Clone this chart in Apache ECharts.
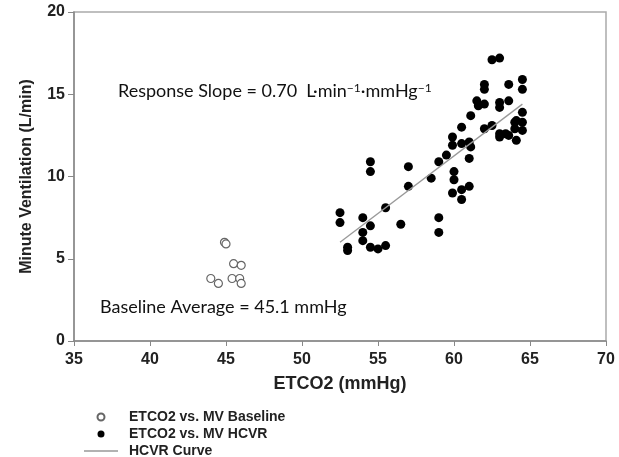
<!DOCTYPE html>
<html>
<head>
<meta charset="utf-8">
<script src="https://cdn.jsdelivr.net/npm/echarts@6/dist/echarts.min.js"></script>
<style>
  html, body { margin: 0; padding: 0; background: #fff; }
  #chart { width: 619px; height: 457px; }
</style>
</head>
<body>
<div id="chart"></div>
<script>
// baseline (open circles)
var baselineX = [44.9, 45.0, 45.5, 46.0, 44.0, 44.5, 45.4, 45.9, 46.0];
var baselineY = [6.0, 5.9, 4.7, 4.6, 3.8, 3.5, 3.8, 3.8, 3.5];

// HCVR (filled dots)
var hcvrX = [52.5, 52.5, 54.0, 54.5, 54.0, 54.0, 55.5, 56.5, 53.0, 53.0, 54.5, 55.0, 55.5,
  59.0, 59.0, 54.5, 54.5, 57.0, 57.0, 58.5, 59.0, 60.5, 62.0, 62.5, 63.0, 63.0, 63.4, 63.6,
  64.0, 64.0, 64.5, 64.1, 59.9, 59.9, 60.5, 61.0, 61.1, 61.0, 59.5, 60.0, 60.0, 59.9, 60.5,
  61.0, 60.5, 62.5, 63.0, 62.0, 62.0, 63.6, 64.5, 64.5, 61.5, 61.6, 62.0, 63.0, 63.0, 63.6,
  61.1, 64.5, 64.5, 64.1];
var hcvrY = [7.8, 7.2, 7.5, 7.0, 6.6, 6.1, 8.1, 7.1, 5.7, 5.5, 5.7, 5.6, 5.8,
  7.5, 6.6, 10.9, 10.3, 10.6, 9.4, 9.9, 10.9, 13.0, 12.9, 13.1, 12.6, 12.4, 12.6, 12.5,
  13.3, 12.9, 12.8, 12.2, 12.4, 11.9, 12.0, 12.1, 11.8, 11.1, 11.3, 10.3, 9.8, 9.0, 9.2,
  9.4, 8.6, 17.1, 17.2, 15.6, 15.3, 15.6, 15.9, 15.3, 14.6, 14.3, 14.4, 14.5, 14.2, 14.6,
  13.7, 13.9, 13.3, 13.4];

// fitted HCVR curve end points
var curveX = [52.5, 64.5];
var curveY = [6.0, 14.4];

function pairs(xs, ys) {
  return xs.map(function (x, i) { return [x, ys[i]]; });
}

var chart = echarts.init(document.getElementById('chart'), null, { renderer: 'canvas' });

var axisFont = { fontFamily: 'Liberation Sans', fontWeight: 'bold', fontSize: 16, color: '#222' };

var option = {
  animation: false,
  grid: {
    left: 74, right: 13, top: 12, bottom: 116,
    show: true, borderColor: '#aaa', borderWidth: 1.5, backgroundColor: 'transparent'
  },
  xAxis: {
    type: 'value', min: 35, max: 70, interval: 5,
    name: 'ETCO2 (mmHg)', nameLocation: 'middle', nameGap: 34,
    nameTextStyle: { fontFamily: 'Liberation Sans', fontWeight: 'bold', fontSize: 18, color: '#222' },
    axisLine: { lineStyle: { color: '#888', width: 1.5 } },
    axisTick: { show: true, length: 5, lineStyle: { color: '#888' } },
    axisLabel: Object.assign({ margin: 11 }, axisFont),
    splitLine: { show: false }
  },
  yAxis: {
    type: 'value', min: 0, max: 20, interval: 5,
    name: 'Minute Ventilation (L/min)', nameLocation: 'middle', nameGap: 39,
    nameTextStyle: { fontFamily: 'Liberation Sans', fontWeight: 'bold', fontSize: 16, color: '#222' },
    axisLine: { show: true, lineStyle: { color: '#888', width: 1.5 } },
    axisTick: { show: true, length: 6, lineStyle: { color: '#888' } },
    axisLabel: Object.assign({ margin: 9 }, axisFont),
    splitLine: { show: false }
  },
  legend: {
    orient: 'vertical', left: 84, top: 410, height: 60, padding: 0,
    itemWidth: 34, itemHeight: 7, itemGap: 3,
    textStyle: { fontFamily: 'Liberation Sans', fontWeight: 'bold', fontSize: 14, color: '#222', padding: [0, 0, 0, 6] },
    data: [
      'ETCO2 vs. MV Baseline',
      'ETCO2 vs. MV HCVR',
      { name: 'HCVR Curve', icon: 'path://M0,0H34V1.3H0Z' }
    ]
  },
  graphic: [
    { type: 'text', left: 118, top: 82,
      style: {
        text: 'Response Slope = 0.70  L·min{s|−1}·mmHg{s|−1}',
        font: '18px Lato', fill: '#111',
        rich: { s: { fontSize: 12, fontFamily: 'Lato', verticalAlign: 'top', padding: [0, 0, 6, 0] } }
      } },
    { type: 'text', left: 100, top: 298,
      style: { text: 'Baseline Average = 45.1 mmHg', font: '18px Lato', fill: '#111' } }
  ],
  series: [
    {
      name: 'ETCO2 vs. MV Baseline', type: 'scatter', symbol: 'circle', symbolSize: 8,
      itemStyle: { color: '#fff', borderColor: '#666', borderWidth: 1.2, opacity: 1 },
      data: pairs(baselineX, baselineY)
    },
    {
      name: 'ETCO2 vs. MV HCVR', type: 'scatter', symbol: 'circle', symbolSize: 9,
      itemStyle: { color: '#000', opacity: 1 },
      data: pairs(hcvrX, hcvrY)
    },
    {
      name: 'HCVR Curve', type: 'line', symbol: 'none',
      lineStyle: { color: '#999', width: 1.3 },
      itemStyle: { color: '#999' },
      data: pairs(curveX, curveY)
    }
  ]
};

chart.setOption(option);
</script>
</body>
</html>
